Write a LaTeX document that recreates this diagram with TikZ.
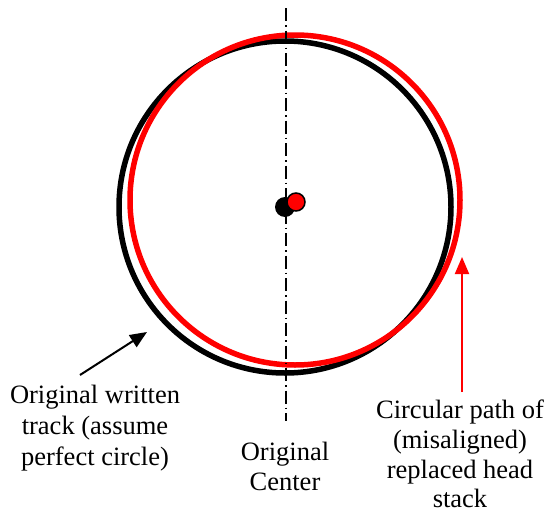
\documentclass[tikz,border=0pt]{standalone}
\usepackage{fontspec}
\setmainfont{Liberation Serif}
\usetikzlibrary{arrows.meta}
\begin{document}
\begin{tikzpicture}[x=1pt,y=-1pt,
  trackline/.style={line width=5.5pt},
  lbl/.style={font=\fontsize{26.5}{30.5}\selectfont, align=center, inner sep=0pt, anchor=north},
  pointer/.style={line width=2pt, -{Triangle[length=17pt,width=14pt]}},
  axisline/.style={line width=1.5pt, dash pattern=on 13pt off 4pt on 1.5pt off 4pt}
]
\useasboundingbox (0,0) rectangle (546,514);
\coordinate (oc) at (285,207);
\coordinate (nc) at (295,200);
\draw[trackline] (oc) circle[radius=166];
\draw[trackline,red] (nc) circle[radius=165];
\coordinate (axtop) at (286,8);
\coordinate (axbot) at (286,421);
\draw[axisline] (axtop) -- (axbot);
\coordinate (nd) at (296,202);
\fill (oc) circle[radius=10];
\filldraw[fill=red,draw=black,line width=1.5pt] (nd) circle[radius=9];
\coordinate (bt) at (80,375);
\coordinate (bh) at (147,332);
\draw[pointer] (bt) -- (bh);
\coordinate (rt) at (462,392);
\coordinate (rh) at (462,257);
\draw[pointer,red] (rt) -- (rh);
\node[lbl,font=\fontsize{26.5}{31}\selectfont] (lt) at (95,384.5) {Original written\\track (assume\\perfect circle)};
\node[lbl,font=\fontsize{26.5}{30}\selectfont] (lc) at (285,441.5) {Original\\Center};
\node[lbl,font=\fontsize{26.5}{29.6}\selectfont] (lr) at (460,400) {Circular path of\\(misaligned)\\replaced head\\stack};
\end{tikzpicture}
\end{document}
